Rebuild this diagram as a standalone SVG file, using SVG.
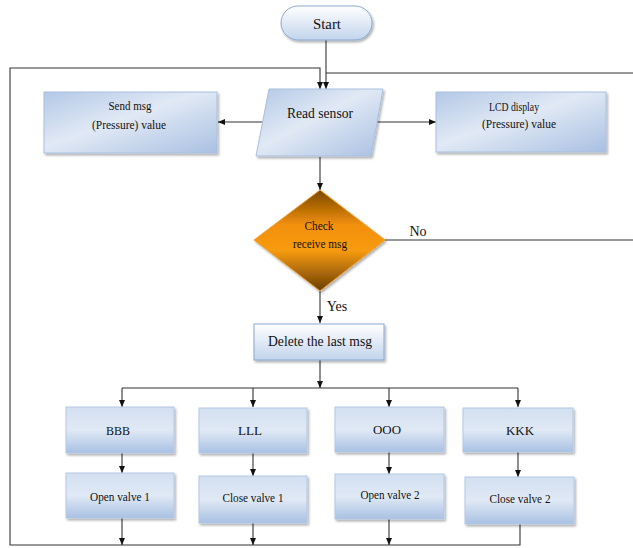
<svg xmlns="http://www.w3.org/2000/svg" width="633" height="548" viewBox="0 0 633 548">
<defs>
<linearGradient id="gBlue" x1="0" y1="0" x2="1" y2="1">
<stop offset="0" stop-color="#b3c8e6"/>
<stop offset="0.45" stop-color="#e1e9f5"/>
<stop offset="1" stop-color="#a9c0e2"/>
</linearGradient>
<linearGradient id="gRow" x1="0" y1="0" x2="0" y2="1">
<stop offset="0" stop-color="#d3e0f1"/>
<stop offset="0.5" stop-color="#e0e9f5"/>
<stop offset="1" stop-color="#a9c1e3"/>
</linearGradient>
<linearGradient id="gLight" x1="0" y1="0" x2="0" y2="1">
<stop offset="0" stop-color="#ffffff"/>
<stop offset="1" stop-color="#c2d4ec"/>
</linearGradient>
<linearGradient id="gOrange" x1="0" y1="0" x2="0" y2="1">
<stop offset="0" stop-color="#7a4800"/>
<stop offset="0.35" stop-color="#f3900a"/>
<stop offset="0.6" stop-color="#f79b12"/>
<stop offset="1" stop-color="#6a3e00"/>
</linearGradient>
<filter id="sh" x="-10%" y="-10%" width="130%" height="140%">
<feDropShadow dx="1.5" dy="2" stdDeviation="1.2" flood-color="#000" flood-opacity="0.3"/>
</filter>
<marker id="ar" markerWidth="8" markerHeight="7" refX="7" refY="3" orient="auto" markerUnits="userSpaceOnUse">
<path d="M0,0 L7,3 L0,6 z" fill="#111"/>
</marker>
</defs>
<style>
.t{font-family:"Liberation Serif","Times New Roman",serif;fill:#111;text-anchor:middle}
.box{fill:url(#gBlue);stroke:#a9bfdf;stroke-width:1;filter:url(#sh)}
.row{fill:url(#gRow);stroke:#b3c7e4;stroke-width:1;filter:url(#sh)}
.lt{fill:url(#gLight);stroke:#8aa7cf;stroke-width:1;filter:url(#sh)}
.c{fill:none;stroke:#333;stroke-width:1.1}
.a{marker-end:url(#ar)}
</style>

<g id="connectors">
<path class="c a" d="M326 40 V89"/>
<path class="c" d="M633 73 H326"/>
<path class="c a" d="M520 524 V545 H10 V68 H320 V89"/>
<path class="c a" d="M122 518 V545"/>
<path class="c a" d="M253 523 V545"/>
<path class="c a" d="M389 519 V545"/>
<path class="c a" d="M262 122 H218"/>
<path class="c a" d="M377 122 H436"/>
<path class="c a" d="M320 157 V190"/>
<path class="c" d="M385 240 H633"/>
<path class="c a" d="M320 291 V323"/>
<path class="c a" d="M320 360 V388"/>
<path class="c" d="M122 388 H518"/>
<path class="c a" d="M122 388 V407"/>
<path class="c a" d="M253 388 V407"/>
<path class="c a" d="M389 388 V407"/>
<path class="c a" d="M518 388 V407"/>
<path class="c a" d="M122 453 V473"/>
<path class="c a" d="M253 453 V476"/>
<path class="c a" d="M389 452 V474"/>
<path class="c a" d="M518 452 V477"/>
<text class="t" x="418" y="236" font-size="14">No</text>
<text class="t" x="337" y="311" font-size="14">Yes</text>
</g>

<g id="start">
<rect class="lt" x="281" y="6" width="91" height="34" rx="17"/>
<text class="t" x="327" y="29" font-size="14" textLength="28" lengthAdjust="spacingAndGlyphs">Start</text>
</g>

<g id="read-sensor">
<polygon class="box" points="269,89 383,89 371,156 256,156"/>
<text class="t" x="320" y="118" font-size="15" textLength="66" lengthAdjust="spacingAndGlyphs">Read sensor</text>
</g>

<g id="send-msg">
<rect class="box" x="44" y="92" width="173" height="61"/>
<text class="t" x="130" y="110" font-size="12" textLength="43" lengthAdjust="spacingAndGlyphs">Send msg</text>
<text class="t" x="129" y="129" font-size="12" textLength="74" lengthAdjust="spacingAndGlyphs">(Pressure) value</text>
</g>

<g id="lcd-display">
<rect class="box" x="436" y="92" width="170" height="60"/>
<text class="t" x="514" y="111" font-size="12" textLength="50" lengthAdjust="spacingAndGlyphs">LCD display</text>
<text class="t" x="519" y="128" font-size="12" textLength="74" lengthAdjust="spacingAndGlyphs">(Pressure) value</text>
</g>

<g id="check">
<polygon points="320,190 385,240 320,291 254,240" fill="url(#gOrange)" stroke="#f0a030" stroke-width="1" filter="url(#sh)"/>
<text class="t" x="319" y="230" font-size="12" textLength="29" lengthAdjust="spacingAndGlyphs">Check</text>
<text class="t" x="320" y="248" font-size="12" textLength="54" lengthAdjust="spacingAndGlyphs">receive msg</text>
</g>

<g id="delete">
<rect class="lt" x="254" y="324" width="130" height="36"/>
<text class="t" x="320" y="346" font-size="15" textLength="104" lengthAdjust="spacingAndGlyphs">Delete the last msg</text>
</g>

<g id="bbb">
<rect class="row" x="66" y="407" width="108" height="46"/>
<text class="t" x="118" y="435" font-size="12" textLength="24" lengthAdjust="spacingAndGlyphs">BBB</text>
</g>
<g id="lll">
<rect class="row" x="199" y="408" width="108" height="45"/>
<text class="t" x="250" y="435" font-size="12" textLength="24" lengthAdjust="spacingAndGlyphs">LLL</text>
</g>
<g id="ooo">
<rect class="row" x="335" y="407" width="109" height="45"/>
<text class="t" x="387" y="434" font-size="12" textLength="28" lengthAdjust="spacingAndGlyphs">OOO</text>
</g>
<g id="kkk">
<rect class="row" x="463" y="408" width="110" height="44"/>
<text class="t" x="520" y="435" font-size="12" textLength="28" lengthAdjust="spacingAndGlyphs">KKK</text>
</g>

<g id="open-valve-1">
<rect class="row" x="66" y="473" width="108" height="45"/>
<text class="t" x="120" y="501" font-size="12" textLength="60" lengthAdjust="spacingAndGlyphs">Open valve 1</text>
</g>
<g id="close-valve-1">
<rect class="row" x="199" y="476" width="108" height="47"/>
<text class="t" x="253" y="502" font-size="12" textLength="61" lengthAdjust="spacingAndGlyphs">Close valve 1</text>
</g>
<g id="open-valve-2">
<rect class="row" x="335" y="474" width="109" height="45"/>
<text class="t" x="390" y="499" font-size="12" textLength="59" lengthAdjust="spacingAndGlyphs">Open valve 2</text>
</g>
<g id="close-valve-2">
<rect class="row" x="465" y="477" width="109" height="47"/>
<text class="t" x="520" y="503" font-size="12" textLength="61" lengthAdjust="spacingAndGlyphs">Close valve 2</text>
</g>
</svg>
